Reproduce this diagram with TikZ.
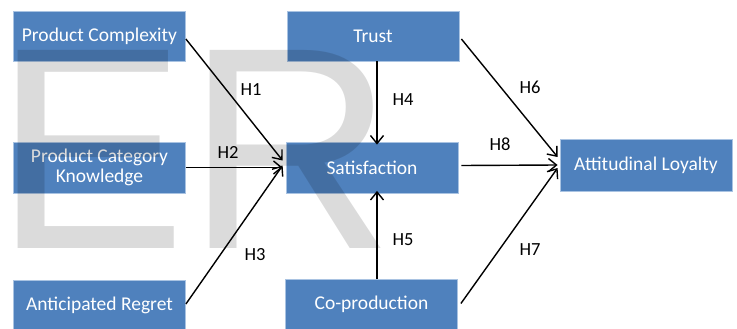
\documentclass[tikz,border=0pt]{standalone}
\usepackage{fontspec}
\setmainfont{Carlito}
\newfontfamily\wmfont{Liberation Sans}
\usetikzlibrary{arrows.meta}
\definecolor{boxblue}{HTML}{4F81BD}
\definecolor{boxedge}{HTML}{A9C3E2}
\begin{document}
\begin{tikzpicture}[x=1pt,y=-1pt,
  box/.style={draw=boxedge,line width=0.8pt,fill=boxblue,text=white,align=center,
    minimum width=172pt,minimum height=50pt,inner sep=0pt,font=\fontsize{19.5}{21}\selectfont},
  conn/.style={line width=1.4pt,-{Straight Barb[length=8pt,width=13pt,line width=1.4pt]}},
  hlab/.style={font=\fontsize{18.5}{20}\selectfont,inner sep=0pt}]
\useasboundingbox (0,0) rectangle (737,329);
\fill[white] (0,0) rectangle (737,329);
% boxes
\node[box] (pc) at (99.5,36) {Product Complexity};
\node[box,minimum height=51pt] (pck) at (99.5,167.5) {Product Category\\[-1pt]Knowledge};
\node[box] (ar) at (99.5,305) {Anticipated Regret};
\node[box] (tr) at (373,36) {Trust};
\node[box,minimum height=51pt] (sat) at (372,167.5) {Satisfaction};
\node[box] (co) at (371.5,304.5) {Co-production};
\node[box,minimum height=52pt] (al) at (646,165) {Attitudinal Loyalty};
% connectors
\draw[conn] ([yshift=-3pt]pc.east) -- ([xshift=-3pt,yshift=7pt]sat.west);
\draw[conn] (pck.east) -- ([xshift=-3pt]sat.west);
\draw[conn] ([yshift=1pt]ar.east) -- ([xshift=-3pt,yshift=2pt]sat.west);
\draw[conn] ([xshift=4pt]tr.south) -- ([xshift=5pt,yshift=-3pt]sat.north);
\draw[conn] ([xshift=5.5pt]co.north) -- ([xshift=5pt,yshift=2.5pt]sat.south);
\draw[conn] ([xshift=2pt,yshift=-3pt]tr.east) -- ([xshift=-2pt,yshift=8pt]al.west);
\draw[conn] ([xshift=3pt,yshift=2pt]sat.east) -- ([xshift=-2pt]al.west);
\draw[conn] ([xshift=3pt,yshift=1pt]co.east) -- ([xshift=-2pt,yshift=-3pt]al.west);
% labels
\node[hlab] (h1) at (251,90) {H1};
\node[hlab] (h2) at (228,152) {H2};
\node[hlab] (h3) at (255,255) {H3};
\node[hlab] (h4) at (403,100) {H4};
\node[hlab] (h5) at (403,240) {H5};
\node[hlab] (h6) at (530,87) {H6};
\node[hlab] (h7) at (530,250) {H7};
\node[hlab] (h8) at (500,144) {H8};
% watermark
\node[anchor=base west,inner sep=0pt,text opacity=0.14,text=black,
  font=\wmfont\fontsize{288}{288}\selectfont] (wm) at (-6,248) {ER};
\end{tikzpicture}
\end{document}
